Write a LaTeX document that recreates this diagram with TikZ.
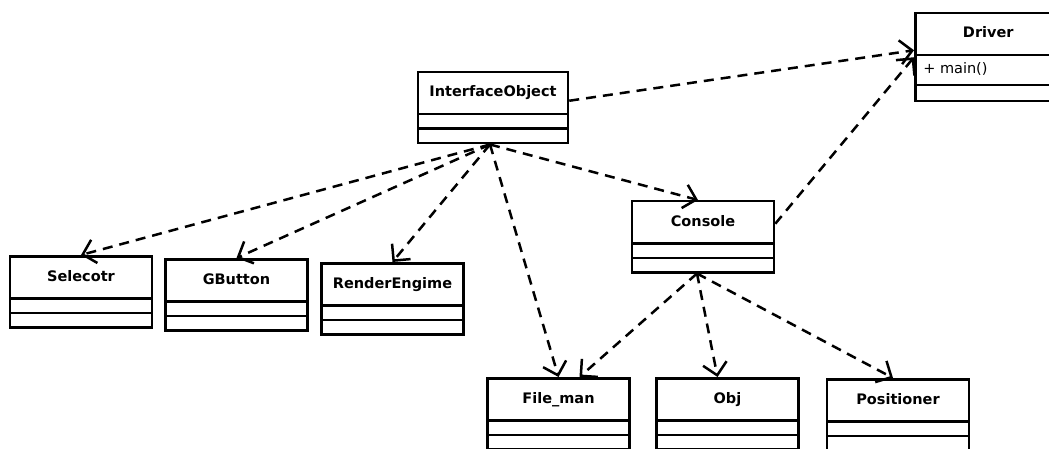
\documentclass[tikz,border=0pt]{standalone}
\usepackage{fontspec}
\setmainfont{DejaVu Sans}
\usetikzlibrary{shapes.multipart,arrows.meta}
\newcommand{\clshead}{\rule[-16pt]{0pt}{39.5pt}}
\newcommand{\clscomp}{\rule[-4pt]{0pt}{12pt}}
\tikzset{
  umlclass/.style={draw, line width=2.5pt, rectangle split, rectangle split parts=3,
    rectangle split part align={center,left,left}, minimum width=142pt,
    inner sep=0pt, anchor=north, font=\fontsize{14.5}{17}\selectfont},
  dep/.style={line width=2.5pt, dash pattern=on 10pt off 7pt,
    -{Straight Barb[length=12pt,width=24pt]}}
}
\begin{document}
\begin{tikzpicture}[x=1pt,y=-1pt]
\useasboundingbox (0,0) rectangle (1049,449);
\clip (0,0) rectangle (1049,449);
% classes
\node[umlclass, anchor=north west, minimum width=146pt] (drv) at (914,12)
  {\clshead\textbf{Driver}\nodepart{two}\rule[-10pt]{0pt}{27.5pt}\hspace*{8pt}+ main()\nodepart{three}\rule[-4pt]{0pt}{13.5pt}};
\node[umlclass, minimum width=150pt] (io) at (493,71)
  {\clshead\textbf{InterfaceObject}\nodepart{two}\clscomp\nodepart{three}\clscomp};
\node[umlclass] (con) at (703,200)
  {\clshead\textbf{Console}\nodepart{two}\clscomp\nodepart{three}\clscomp};
\node[umlclass] (sel) at (81,255)
  {\clshead\textbf{Selecotr}\nodepart{two}\clscomp\nodepart{three}\clscomp};
\node[umlclass] (gbt) at (236.5,258)
  {\clshead\textbf{GButton}\nodepart{two}\clscomp\nodepart{three}\clscomp};
\node[umlclass] (ren) at (392.5,262)
  {\clshead\textbf{RenderEngime}\nodepart{two}\clscomp\nodepart{three}\clscomp};
\node[umlclass] (fm) at (558.5,377)
  {\clshead\textbf{File\_man}\nodepart{two}\clscomp\nodepart{three}\clscomp};
\node[umlclass] (obj) at (727.5,377)
  {\clshead\textbf{Obj}\nodepart{two}\clscomp\nodepart{three}\clscomp};
\node[umlclass] (pos) at (898,378)
  {\clshead\textbf{Positioner}\nodepart{two}\clscomp\nodepart{three}\clscomp};
% dependencies
\draw[dep] ([yshift=7pt]io.east) -- ([yshift=5pt]drv.one split west);
\draw[dep] ([yshift=13pt]con.east) -- ([yshift=-2pt]drv.one split west);
\draw[dep] ([xshift=-3pt]io.south) -- (sel.north);
\draw[dep] ([xshift=-3pt]io.south) -- (gbt.north);
\draw[dep] ([xshift=-3pt]io.south) -- (ren.north);
\draw[dep] ([xshift=-3pt]io.south) -- (fm.north);
\draw[dep] ([xshift=-3pt]io.south) -- ([xshift=-5pt]con.north);
\draw[dep] ([xshift=-6pt]con.south) -- ([xshift=21pt]fm.north);
\draw[dep] ([xshift=-6pt]con.south) -- ([xshift=-10pt]obj.north);
\draw[dep] ([xshift=-6pt]con.south) -- ([xshift=-5pt]pos.north);
\end{tikzpicture}
\end{document}
